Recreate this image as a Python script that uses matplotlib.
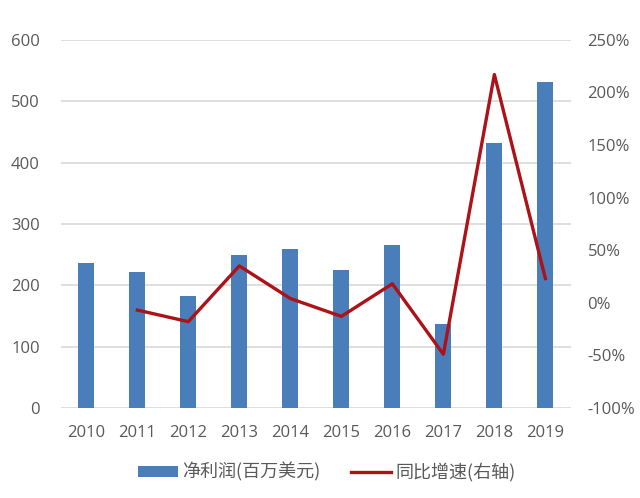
import numpy as np
import matplotlib
matplotlib.use("Agg")
import matplotlib.pyplot as plt
from matplotlib.ticker import FuncFormatter

plt.rcParams['font.family'] = ['Open Sans', 'Noto Sans CJK SC', 'DejaVu Sans']

years = ['2010', '2011', '2012', '2013', '2014', '2015', '2016', '2017', '2018', '2019']
profit = [236, 221, 182, 249, 259, 225, 266, 136, 432, 532]
# growth in %, first year has none
growth = [np.nan, -7, -18, 35, 4, -13, 18, -49, 217, 23]

bar_color = '#4a7ebb'
line_color = '#ac1218'
text_color = '#595959'

fig = plt.figure(figsize=(6.4, 4.98), dpi=100)
ax = fig.add_axes([0.095, 0.181, 0.797, 0.739])
x = np.arange(len(years))

bars = ax.bar(x, profit, width=0.31, color=bar_color, zorder=2)
ax.set_ylim(0, 600)
ax.set_yticks(range(0, 601, 100))
ax.set_xlim(-0.5, len(years) - 0.5)
ax.set_xticks(x)
ax.set_xticklabels(years)
ax.grid(axis='y', color='#d9d9d9', linewidth=1.2, zorder=0)
for s in ax.spines.values():
    s.set_visible(False)
ax.tick_params(axis='y', length=0, pad=15, labelsize=12, labelcolor=text_color)
ax.tick_params(axis='x', length=0, pad=12, labelsize=12, labelcolor=text_color)

ax2 = ax.twinx()
line, = ax2.plot(x, growth, color=line_color, linewidth=2.4, zorder=3)
ax2.set_ylim(-100, 250)
ax2.set_yticks(range(-100, 251, 50))
ax2.yaxis.set_major_formatter(FuncFormatter(lambda v, p: '%d%%' % v))
for s in ax2.spines.values():
    s.set_visible(False)
ax2.tick_params(axis='y', length=0, pad=12, labelsize=12, labelcolor=text_color)

fig.legend([bars, line], ['净利润(百万美元)', '同比增速(右轴)'], loc='center',
           bbox_to_anchor=(0.511, 0.052), ncol=2, frameon=False,
           labelcolor=text_color, handlelength=2.2, handleheight=0.55,
           handletextpad=0.25, columnspacing=1.7,
           prop={'family': ['Noto Sans CJK SC', 'DejaVu Sans'], 'size': 13})

fig.savefig('out.png', dpi=100)
